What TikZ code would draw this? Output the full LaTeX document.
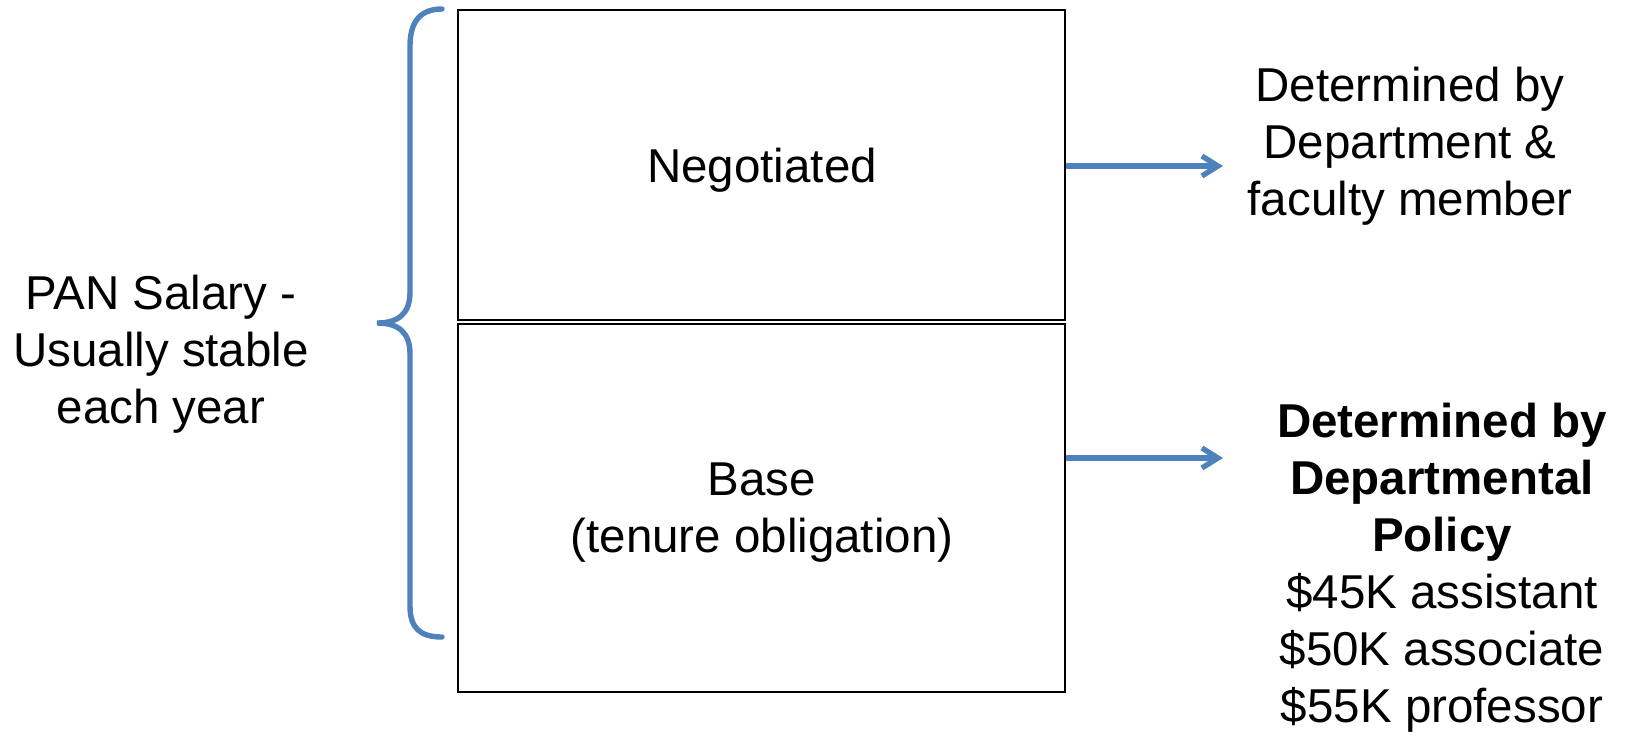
\documentclass[tikz,border=0pt]{standalone}
\usepackage{fontspec}
\setmainfont{Liberation Sans}
\usetikzlibrary{arrows.meta}
\definecolor{accent}{HTML}{4F81BD}
\tikzset{
  txt/.style={align=center, inner sep=0pt, font=\fontsize{23.75pt}{28.5pt}\selectfont},
  panel/.style={draw=black, line width=1pt, inner sep=0pt},
  arr/.style={draw=accent, line width=2.7pt, -{Straight Barb[length=8pt,width=10pt]}},
  brace/.style={draw=accent, line width=2.7pt, line cap=round}
}
\begin{document}
\begin{tikzpicture}[x=0.5pt,y=-0.5pt]
\useasboundingbox (0,0) rectangle (1625,735);

% the two stacked salary panels
\node[panel, minimum width=303.5pt, minimum height=155pt] (top) at (761.5,165) {};
\node[panel, minimum width=303.5pt, minimum height=184pt] (bot) at (761.5,508) {};

\node[txt] (neg) at (762,170) {Negotiated};
\node[txt] (base) at (762,513) {Base\\(tenure obligation)};

% left label and brace
\node[txt] (pan) at (161,354) {PAN Salary -\\Usually stable\\each year};
\draw[brace] (442,9) .. controls (420,9) and (410,22) .. (410,46)
  -- (410,292) .. controls (410,314) and (398,323) .. (377,323)
  .. controls (398,323) and (410,332) .. (410,354)
  -- (410,606) .. controls (410,628) and (420,637) .. (442,637);

% right-hand explanations
\node[txt] (dept) at (1410,146) {Determined by\\Department \&\\faculty member};
\node[txt] (pol) at (1442,568) {\textbf{Determined by}\\\textbf{Departmental}\\\textbf{Policy}\\\$45K assistant\\\$50K associate\\\$55K professor};

% connectors
\coordinate (e1) at (1223,166);
\coordinate (e2) at (1223,458);
\draw[arr] (top.east |- e1) -- (e1);
\draw[arr] (bot.east |- e2) -- (e2);
\end{tikzpicture}
\end{document}
